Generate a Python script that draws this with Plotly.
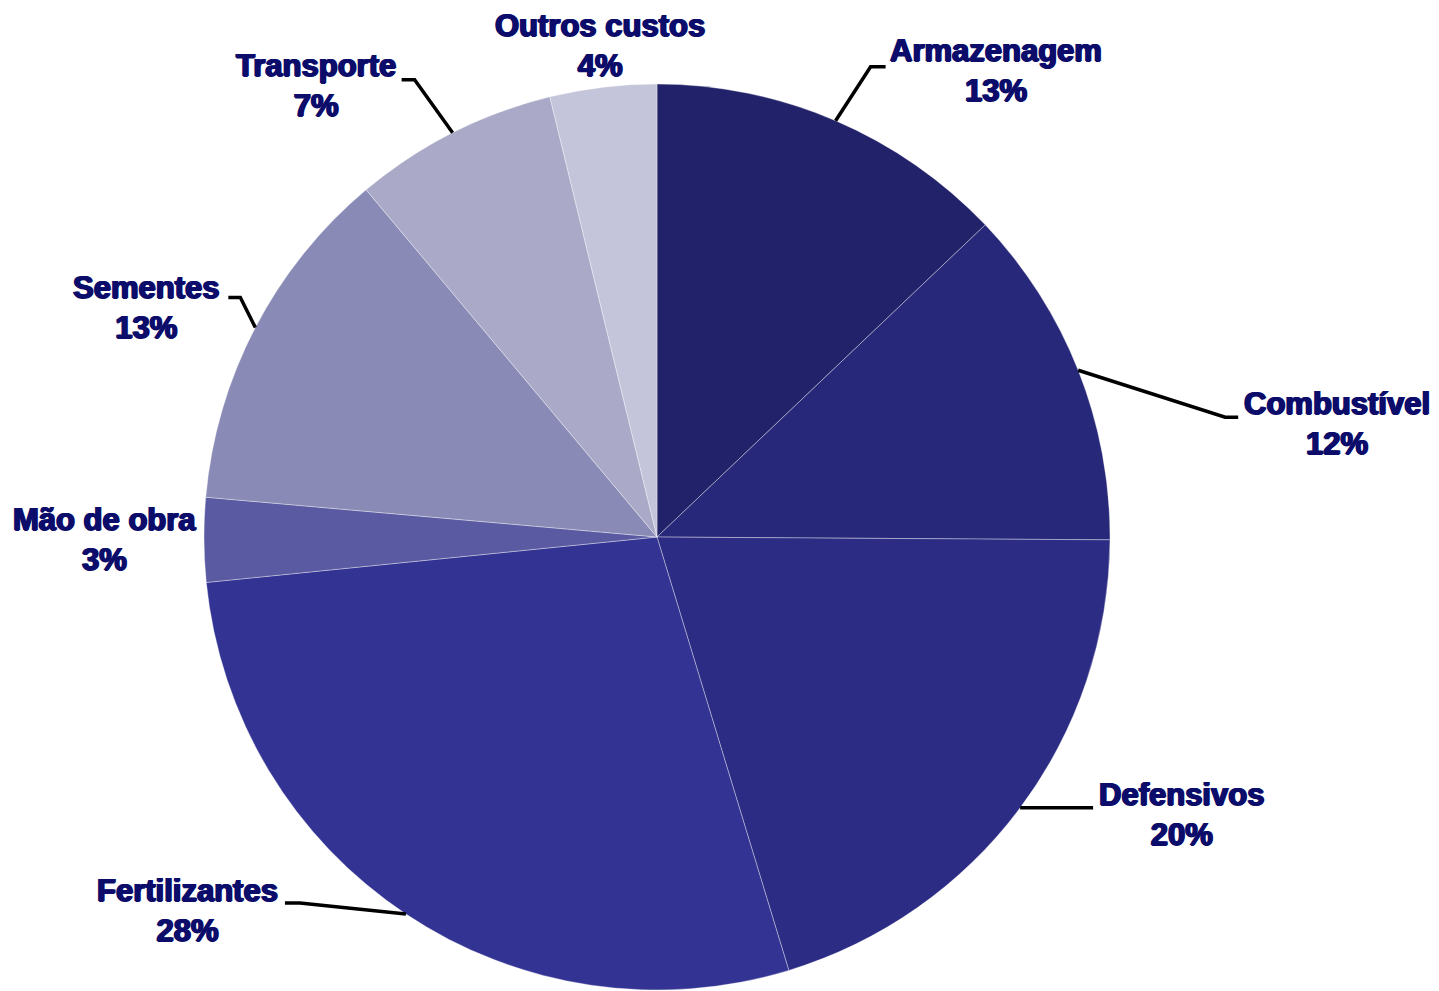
import math
import plotly.graph_objects as go

# Data
categories = ['Armazenagem', 'Combustível', 'Defensivos', 'Fertilizantes',
              'Mão de obra', 'Sementes', 'Transporte', 'Outros custos']
values = [12.9, 12.2, 20.2, 28.1, 3.0, 12.5, 7.3, 3.8]
colors = ['#22226a', '#28287a', '#2c2c84', '#333393',
          '#5a5aa2', '#8a8ab6', '#aaaac8', '#c4c4da']

# Layout (pixels); the page puts the figure 8px in from the corner
W, H = 1439, 991
PAD = 8
CX, CY, R = 657 - PAD, 537 - PAD, 453
# label centre offset, elbow offset, end offset from the slice edge point (None = no leader)
label_off = [(160, -50), (259, 53), (161, 7), (-218, -4),
             (-100, 0), (-109, -20), (-137, -47), (-3, -42)]
elbow_off = [(35, -54), (147, 47), (73, 0), (-106, -11),
             None, (-15, -30), (-38, -53), None]
end_off = [(50, -54), (160, 47), (73, 0), (-121, -11),
           None, (-27, -30), (-51, -53), None]

fig = go.Figure()
fig.add_trace(go.Pie(
    labels=categories, values=values, sort=False, direction='clockwise',
    rotation=0, textinfo='none', hoverinfo='label+percent',
    marker=dict(colors=colors, line=dict(color='rgba(255,255,255,0.35)', width=1)),
    domain=dict(x=[(CX - R) / W, (CX + R) / W], y=[1 - (CY + R) / H, 1 - (CY - R) / H]),
    showlegend=False))


def paper(px, py):
    return px / W, 1 - py / H


total = sum(values)
cum = 0
annotations = []
shapes = []
for i, (cat, v) in enumerate(zip(categories, values)):
    mid = (cum + v / 2) / total * 2 * math.pi
    cum += v
    ex = CX + R * math.sin(mid)
    ey = CY - R * math.cos(mid)
    lx, ly = paper(ex + label_off[i][0], ey + label_off[i][1])
    annotations.append(dict(
        x=lx, y=ly, xref='paper', yref='paper', showarrow=False,
        text=f'{cat}<br>{int(v / total * 100 + 0.5)}%',
        xanchor='center', yanchor='middle', align='center',
        font=dict(family='Liberation Sans, Arial', size=31, color='#0c0c6a',
                  weight='bold',
                  shadow='1px 0 0 #0c0c6a, -1px 0 0 #0c0c6a, 0 1px 0 #0c0c6a')))
    if elbow_off[i] is not None:
        pts = [(ex, ey),
               (ex + elbow_off[i][0], ey + elbow_off[i][1]),
               (ex + end_off[i][0], ey + end_off[i][1])]
        pp = [paper(a, b) for a, b in pts]
        path = 'M {} {} L {} {} L {} {}'.format(*[c for p in pp for c in p])
        shapes.append(dict(type='path', path=path, xref='paper', yref='paper',
                           line=dict(color='#000000', width=3.5)))

fig.update_layout(
    width=W, height=H,
    margin=dict(l=0, r=0, t=0, b=0),
    paper_bgcolor='#ffffff', plot_bgcolor='#ffffff',
    annotations=annotations, shapes=shapes)

fig.write_html('out.html')
